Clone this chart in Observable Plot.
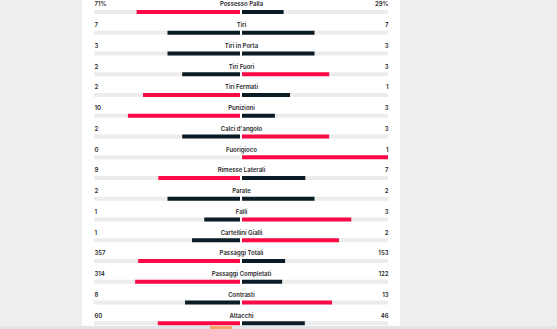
<!DOCTYPE html>
<html>
<head>
<meta charset="utf-8">
<script src="https://cdn.jsdelivr.net/npm/d3@7"></script>
<script src="https://cdn.jsdelivr.net/npm/@observablehq/plot@0.6"></script>
<style>
  html, body { margin: 0; padding: 0; background: #eeeeee; width: 557px; height: 329px; overflow: hidden; }
  #panel { position: absolute; left: 82px; top: 0; width: 318px; height: 329px; background: #ffffff; }
  #strip { position: absolute; left: 0; top: 326px; width: 557px; height: 3px; background: #dfe5e8; }
  #strip2 { position: absolute; left: 210px; top: 326px; width: 22px; height: 3px; background: #f3a867; }
  #chart { position: absolute; left: 0; top: 0; }
  svg { background: transparent !important; }
</style>
</head>
<body>
<div id="panel"></div>
<div id="chart"></div>
<div id="strip"></div>
<div id="strip2"></div>
<script>
const stats = ["Possesso Palla", "Tiri", "Tiri in Porta", "Tiri Fuori", "Tiri Fermati", "Punizioni", "Calci d'angolo", "Fuorigioco", "Rimesse Laterali", "Parate", "Falli", "Cartellini Gialli", "Passaggi Totali", "Passaggi Completati", "Contrasti", "Attacchi"];
const homeValues = [71, 7, 3, 2, 2, 10, 2, 0, 9, 2, 1, 1, 357, 314, 8, 60];
const awayValues = [29, 7, 3, 3, 1, 3, 3, 1, 7, 2, 3, 2, 153, 122, 13, 46];
const suffixes = ["%", "", "", "", "", "", "", "", "", "", "", "", "", "", "", ""];

const RED = "#fb0a46";
const DARK = "#0b1c26";

const rows = stats.map((s, i) => {
  const h = homeValues[i], a = awayValues[i], t = h + a;
  return {
    stat: s,
    home: h, away: a,
    homeShare: t ? h / t : 0,
    awayShare: t ? a / t : 0,
    homeColor: h > a ? RED : DARK,
    awayColor: a > h ? RED : DARK,
    homeLabel: h + suffixes[i],
    awayLabel: a + suffixes[i]
  };
});

const chart = Plot.plot({
  width: 557,
  height: 329,
  margin: 0,
  x: { domain: [-1, 1], range: [94, 388], axis: null },
  y: { type: "point", domain: stats, range: [11.5, 322.8], padding: 0, round: false, axis: null },
  style: { fontFamily: "Inter, 'Noto Sans', sans-serif", background: "transparent" },
  marks: [
    Plot.ruleY(rows, { y: "stat", x1: -1, x2: 0, stroke: "#ececec", strokeWidth: 4, insetRight: 1 }),
    Plot.ruleY(rows, { y: "stat", x1: 0, x2: 1, stroke: "#ececec", strokeWidth: 4, insetLeft: 1 }),
    Plot.ruleY(rows.filter(d => d.homeShare > 0), { y: "stat", x1: d => -d.homeShare, x2: 0, stroke: "homeColor", strokeWidth: 4, insetRight: 1 }),
    Plot.ruleY(rows.filter(d => d.awayShare > 0), { y: "stat", x1: 0, x2: d => d.awayShare, stroke: "awayColor", strokeWidth: 4, insetLeft: 1 }),
    Plot.text(rows, { y: "stat", x: -1, text: "homeLabel", textAnchor: "start", dy: -7.5, fontSize: 6, fontWeight: 600, fill: "#2a2a2a" }),
    Plot.text(rows, { y: "stat", x: 1, text: "awayLabel", textAnchor: "end", dy: -7.5, fontSize: 6, fontWeight: 600, fill: "#2a2a2a" }),
    Plot.text(rows, { y: "stat", x: 0, text: "stat", textAnchor: "middle", dy: -7.5, fontSize: 6, fontWeight: 600, fill: "#2a2a2a" })
  ]
});
document.getElementById("chart").appendChild(chart);
</script>
</body>
</html>
